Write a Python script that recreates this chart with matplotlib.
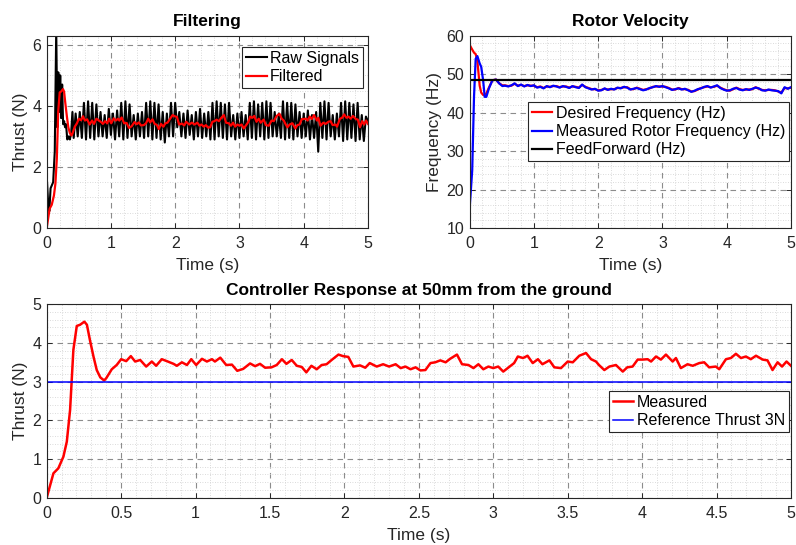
import numpy as np
import matplotlib
matplotlib.use("Agg")
import matplotlib.pyplot as plt
from matplotlib.ticker import MultipleLocator, FixedLocator

plt.rcParams['font.family'] = ['Liberation Sans', 'DejaVu Sans']

# ---------------- data ----------------
# Filtered / measured thrust (N) vs time (s)
thrust_t = [0, 0.045, 0.078, 0.112, 0.135, 0.157, 0.179, 0.202, 0.224, 0.253, 0.27, 0.29,
            0.314, 0.336, 0.36, 0.386, 0.40, 0.437, 0.47, 0.5, 0.534, 0.565, 0.594, 0.628,
            0.668, 0.706, 0.735, 0.773, 0.807, 0.852, 0.874, 0.908, 0.942, 0.971, 1.004,
            1.043, 1.076, 1.11, 1.13, 1.166, 1.206, 1.244, 1.28, 1.32, 1.366, 1.40, 1.433,
            1.467, 1.51, 1.545, 1.58, 1.61, 1.646, 1.68, 1.713, 1.744, 1.778, 1.814, 1.847,
            1.88, 1.914, 1.96, 1.99, 2.026, 2.06, 2.105, 2.14, 2.17, 2.217, 2.26, 2.3, 2.344,
            2.378, 2.41, 2.444, 2.478, 2.51, 2.544, 2.578, 2.61, 2.644, 2.68, 2.71, 2.756,
            2.79, 2.833, 2.867, 2.9, 2.933, 2.967, 3.0, 3.033, 3.067, 3.11, 3.14, 3.165, 3.2,
            3.23, 3.265, 3.3, 3.33, 3.377, 3.41, 3.455, 3.5, 3.534, 3.578, 3.623, 3.657, 3.69,
            3.71, 3.746, 3.78, 3.824, 3.87, 3.9, 3.936, 3.97, 4.003, 4.037, 4.06, 4.093, 4.126,
            4.16, 4.205, 4.227, 4.26, 4.305, 4.34, 4.384, 4.417, 4.45, 4.495, 4.518, 4.563,
            4.596, 4.63, 4.664, 4.697, 4.73, 4.765, 4.81, 4.842, 4.876, 4.91, 4.94, 4.97, 5.0]
thrust_filtered = [0.0, 0.63, 0.76, 1.06, 1.45, 2.27, 3.82, 4.44, 4.47, 4.55, 4.47, 4.08,
                   3.65, 3.30, 3.11, 3.03, 3.09, 3.32, 3.43, 3.58, 3.53, 3.66, 3.52, 3.56,
                   3.39, 3.52, 3.41, 3.58, 3.53, 3.46, 3.41, 3.50, 3.43, 3.58, 3.43,
                   3.59, 3.52, 3.58, 3.52, 3.62, 3.43, 3.44, 3.28, 3.33, 3.47, 3.40, 3.46,
                   3.36, 3.37, 3.43, 3.58, 3.46, 3.56, 3.41, 3.38, 3.24, 3.41, 3.32, 3.43,
                   3.45, 3.56, 3.70, 3.66, 3.64, 3.39, 3.42, 3.36, 3.48, 3.39, 3.45, 3.39, 3.45,
                   3.35, 3.39, 3.32, 3.37, 3.29, 3.30, 3.48, 3.50, 3.55, 3.50, 3.59, 3.70,
                   3.45, 3.43, 3.35, 3.45, 3.32, 3.39, 3.35, 3.39, 3.26, 3.39, 3.48, 3.65, 3.61,
                   3.67, 3.48, 3.58, 3.45, 3.55, 3.37, 3.35, 3.52, 3.50, 3.67, 3.74, 3.58, 3.52,
                   3.43, 3.30, 3.39, 3.43, 3.26, 3.37, 3.39, 3.57, 3.57, 3.58, 3.52, 3.65, 3.57,
                   3.70, 3.52, 3.61, 3.35, 3.45, 3.41, 3.48, 3.50, 3.37, 3.39, 3.32, 3.58,
                   3.61, 3.72, 3.61, 3.65, 3.58, 3.67, 3.57, 3.55, 3.30, 3.50, 3.39, 3.52, 3.41]

# Raw load-cell signal: start-up transient, then the steady sampled part
raw_t_start = [0, 0.02, 0.04, 0.06, 0.08, 0.10, 0.125, 0.148, 0.165, 0.18, 0.195, 0.21,
               0.225, 0.24, 0.255, 0.27, 0.285, 0.30, 0.32, 0.34, 0.36, 0.38, 0.40, 0.42]
raw_v_start = [1.7, 0.9, 0.55, 1.3, 1.4, 1.5, 2.5, 6.5, 3.3, 5.1, 3.8, 5.0,
               3.6, 4.7, 3.4, 3.5, 3.3, 3.4, 2.9, 3.0, 2.9, 3.1, 3.8, 2.95]
raw_steady = [3.75, 3.0, 3.8, 2.95,
              4.1, 2.9, 4.15, 2.95, 4.1, 2.9, 4.05, 3.0,
              3.8, 3.0, 3.7, 2.95, 3.9, 3.05, 3.75, 2.9, 3.85, 3.0,
              4.1, 2.9, 4.15, 2.95, 4.05, 3.0,
              3.7, 2.9, 3.75, 3.0, 3.8, 2.95,
              4.1, 3.0, 4.15, 2.9, 4.1, 2.95, 4.05, 2.9,
              3.8, 2.8, 3.75, 3.0,
              4.1, 3.0, 4.1, 3.3,
              3.8, 3.0, 3.75, 2.95, 3.85, 3.05, 3.7, 2.9, 3.8, 3.0, 3.9, 2.95, 3.75, 3.0, 3.8, 2.9,
              4.1, 2.9, 4.15, 3.0, 4.1, 2.95, 4.05, 2.9, 4.1, 3.0,
              3.7, 2.9, 3.75, 2.95, 3.8, 3.0, 3.7, 2.9,
              4.1, 2.95, 4.15, 2.9, 4.05, 3.0, 4.1, 2.9, 4.15, 2.95, 4.1, 3.0,
              3.8, 3.0, 3.75, 2.95,
              4.15, 2.9, 4.1, 2.95, 4.1, 2.9, 4.05, 3.0,
              3.8, 2.95, 3.75, 3.0, 3.85, 2.9, 3.7, 2.95, 3.8, 2.5,
              4.1, 2.95, 4.15, 2.9, 4.1, 3.0,
              3.7, 2.9, 3.75, 3.0,
              4.1, 2.85, 4.15, 2.9, 4.1, 2.95, 4.05, 2.85, 4.1, 2.9,
              3.7, 2.85, 3.65, 3.5]
raw_steady_span = (0.45, 5.0)

# Rotor velocity (Hz)
rotor_t_start = [0, 0.04, 0.068, 0.094, 0.12, 0.156, 0.18, 0.21, 0.234, 0.26, 0.30,
                 0.354, 0.41, 0.46, 0.51]
measured_start = [15.1, 25.0, 44.1, 54.0, 54.7, 52.8, 51.9, 48.4, 44.1, 44.1, 46.3,
                  48.4, 48.6, 47.6, 46.9]
desired_start = [57.6, 56.4, 55.6, 55.2, 53.5, 47.0, 45.2, 44.6, 44.5, 45.0, 46.5,
                 48.4, 48.6, 47.6, 47.1]
rotor_t_steady = [0.55, 0.60, 0.65, 0.70, 0.75, 0.80, 0.85, 0.90, 0.95, 1.00, 1.05, 1.10,
                  1.15, 1.20, 1.25, 1.30, 1.35, 1.40, 1.45, 1.50, 1.55, 1.60, 1.65, 1.70,
                  1.75, 1.80, 1.85, 1.90, 1.95, 2.00, 2.05, 2.10, 2.15, 2.20, 2.25, 2.30,
                  2.35, 2.40, 2.45, 2.50, 2.55, 2.60, 2.65, 2.70, 2.75, 2.80, 2.85, 2.90,
                  2.95, 3.00, 3.05, 3.10, 3.15, 3.20, 3.25, 3.30, 3.35, 3.40, 3.45, 3.50,
                  3.55, 3.60, 3.65, 3.70, 3.75, 3.80, 3.85, 3.90, 3.95, 4.00, 4.05, 4.10,
                  4.15, 4.20, 4.25, 4.30, 4.35, 4.40, 4.45, 4.50, 4.55, 4.60, 4.65, 4.70,
                  4.75, 4.80, 4.85, 4.90, 4.95, 5.00]
measured_steady = [47.0, 46.8, 47.1, 47.6, 46.9, 47.3, 46.8, 47.2, 46.9, 47.1, 46.5, 46.7,
                   46.3, 46.9, 46.6, 47.0, 46.8, 46.5, 46.9, 46.7, 46.4, 46.9, 46.6, 46.4,
                   47.3, 46.6, 46.3, 46.0, 46.2, 45.7, 45.8, 46.3, 45.9, 46.2, 46.0, 46.5,
                   46.3, 46.7, 46.5, 46.0, 46.2, 46.4, 46.1, 45.8, 46.0, 46.4, 46.6, 46.9,
                   46.7, 46.9, 46.6, 46.3, 45.9, 46.1, 46.3, 46.0, 46.2, 45.8, 45.4, 45.7,
                   46.1, 46.3, 46.7, 46.9, 46.5, 46.8, 47.1, 46.4, 46.0, 45.7, 45.8, 46.2,
                   46.4, 46.0, 45.8, 46.1, 45.9, 46.2, 46.5, 46.3, 45.8, 45.7, 46.0, 45.8,
                   45.7, 45.6, 45.0, 46.6, 46.2, 46.6]
desired_steady = [47.1, 46.9, 47.0, 47.5, 47.0, 47.2, 46.9, 47.1, 47.0, 47.0, 46.6, 46.8,
                  46.4, 46.8, 46.7, 46.9, 46.9, 46.6, 46.8, 46.8, 46.5, 46.8, 46.7, 46.5,
                  47.2, 46.7, 46.4, 46.1, 46.1, 45.8, 45.9, 46.2, 46.0, 46.1, 46.1, 46.4,
                  46.4, 46.6, 46.6, 46.1, 46.1, 46.5, 46.2, 45.9, 46.1, 46.3, 46.7, 46.8,
                  46.8, 46.8, 46.7, 46.4, 46.0, 46.0, 46.4, 46.1, 46.1, 45.9, 45.5, 45.6,
                  46.0, 46.4, 46.6, 46.8, 46.6, 46.7, 47.0, 46.5, 46.1, 45.8, 45.7, 46.1,
                  46.5, 46.1, 45.9, 46.0, 46.0, 46.1, 46.6, 46.2, 45.9, 45.8, 45.9, 45.9,
                  45.8, 45.5, 45.2, 46.4, 46.3, 46.5]
feedforward_hz = 48.6
reference_thrust = 3.0

# ---------------- styling helpers ----------------
AX_COL = '#262626'
GRID_MAJ = dict(color='#8c8c8c', linestyle=(0, (5, 4)), linewidth=0.8)
GRID_MIN = dict(color='#cfcfcf', linestyle=(0, (1, 2)), linewidth=0.6)


def style_axes(ax, xminor, yminor):
    ax.xaxis.set_minor_locator(MultipleLocator(xminor))
    ax.yaxis.set_minor_locator(MultipleLocator(yminor))
    ax.grid(True, which='minor', **GRID_MIN)
    ax.grid(True, which='major', **GRID_MAJ)
    ax.set_axisbelow(True)
    for s in ax.spines.values():
        s.set_color(AX_COL)
        s.set_linewidth(0.8)
    ax.tick_params(which='major', direction='in', length=3.5, width=0.7, colors=AX_COL,
                   labelsize=11.5, top=True, right=True)
    ax.tick_params(axis='x', which='major', pad=6)
    ax.tick_params(axis='y', which='major', pad=4)
    ax.tick_params(which='minor', length=0, top=True, right=True)


def style_legend(leg):
    fr = leg.get_frame()
    fr.set_edgecolor(AX_COL)
    fr.set_linewidth(0.8)
    fr.set_alpha(1)


LEG_KW = dict(loc='upper right', borderaxespad=0, fontsize=11.5, fancybox=False,
              handlelength=1.3, handletextpad=0.2, borderpad=0.25, labelspacing=0.2)

fig = plt.figure(figsize=(7.96, 5.45), dpi=100)
ax1 = fig.add_axes([0.0587, 0.5817, 0.4036, 0.3528])
ax2 = fig.add_axes([0.5900, 0.5817, 0.4037, 0.3528])
ax3 = fig.add_axes([0.0587, 0.0868, 0.9350, 0.3549])

# ---- Filtering ----
raw_t = np.concatenate([raw_t_start,
                        np.linspace(raw_steady_span[0], raw_steady_span[1], len(raw_steady))])
raw_v = np.concatenate([raw_v_start, raw_steady])
ax1.plot(raw_t, raw_v, color='black', lw=1.5, label='Raw Signals')
ax1.plot(thrust_t, thrust_filtered, color='#ff0000', lw=1.6, label='Filtered')
ax1.set_xlim(0, 5)
ax1.set_ylim(0, 6.3)
ax1.xaxis.set_major_locator(MultipleLocator(1))
ax1.yaxis.set_major_locator(FixedLocator([0, 2, 4, 6]))
style_axes(ax1, 0.2, 0.5)
ax1.set_title('Filtering', fontsize=12.5, fontweight='bold', pad=7)
ax1.set_xlabel('Time (s)', fontsize=12.5, color=AX_COL, labelpad=5)
ax1.set_ylabel('Thrust (N)', fontsize=12.5, color=AX_COL, labelpad=3)
leg1 = ax1.legend(bbox_to_anchor=(0.984, 0.941), **LEG_KW)
style_legend(leg1)

# ---- Rotor Velocity ----
rotor_t = np.concatenate([rotor_t_start, rotor_t_steady])
ax2.plot(rotor_t, np.concatenate([desired_start, desired_steady]), color='#ff0000', lw=1.6,
         label='Desired Frequency (Hz)')
ax2.plot(rotor_t, np.concatenate([measured_start, measured_steady]), color='#0000ff', lw=1.6,
         label='Measured Rotor Frequency (Hz)')
ax2.axhline(feedforward_hz, color='black', lw=1.6, label='FeedForward (Hz)')
ax2.set_xlim(0, 5)
ax2.set_ylim(10, 60)
ax2.xaxis.set_major_locator(MultipleLocator(1))
ax2.yaxis.set_major_locator(MultipleLocator(10))
style_axes(ax2, 0.2, 2)
ax2.set_title('Rotor Velocity', fontsize=12.5, fontweight='bold', pad=7)
ax2.set_xlabel('Time (s)', fontsize=12.5, color=AX_COL, labelpad=5)
ax2.set_ylabel('Frequency (Hz)', fontsize=12.5, color=AX_COL, labelpad=3)
leg2 = ax2.legend(bbox_to_anchor=(0.994, 0.655), **LEG_KW)
style_legend(leg2)

# ---- Controller response ----
ax3.plot(thrust_t, thrust_filtered, color='#ff0000', lw=1.8, label='Measured')
ax3.axhline(reference_thrust, color='#0000ff', lw=1.1, label='Reference Thrust 3N')
ax3.set_xlim(0, 5)
ax3.set_ylim(0, 5)
ax3.set_xticks(np.arange(0, 5.01, 0.5))
ax3.set_xticklabels(['0', '0.5', '1', '1.5', '2', '2.5', '3', '3.5', '4', '4.5', '5'])
ax3.yaxis.set_major_locator(MultipleLocator(1))
style_axes(ax3, 0.1, 0.2)
ax3.set_title('Controller Response at 50mm from the ground', fontsize=12.5,
              fontweight='bold', pad=7)
ax3.set_xlabel('Time (s)', fontsize=12.5, color=AX_COL, labelpad=5)
ax3.set_ylabel('Thrust (N)', fontsize=12.5, color=AX_COL, labelpad=3)
leg3 = ax3.legend(bbox_to_anchor=(0.997, 0.552), **LEG_KW)
style_legend(leg3)

fig.savefig('out.png', dpi=100)
